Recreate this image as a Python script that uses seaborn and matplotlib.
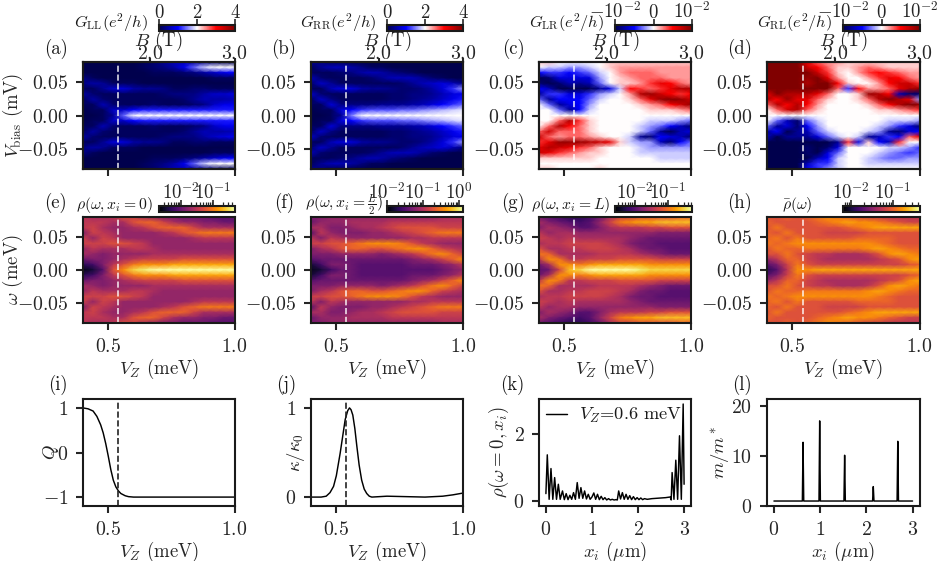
import matplotlib
matplotlib.use("Agg")
import matplotlib.pyplot as plt
from matplotlib.cm import ScalarMappable
from matplotlib.colors import LogNorm, Normalize
import numpy as np
import pandas as pd
import seaborn as sns

W, H = 940, 561

# grid of the maps: columns are V_Z (meV), rows run from +0.08 down to -0.08
vz_grid = [0.40, 0.44, 0.48, 0.52, 0.56, 0.60, 0.64, 0.68, 0.72, 0.76, 0.80, 0.84, 0.88, 0.92, 0.96, 1.00]
omega_grid = [0.08, 0.072, 0.064, 0.056, 0.048, 0.04, 0.032, 0.024, 0.016, 0.008, 0.0,
              -0.008, -0.016, -0.024, -0.032, -0.04, -0.048, -0.056, -0.064, -0.072, -0.08]
vz_marker = 0.54

# G_LL, G_RR in tenths of e^2/h
g_ll = [
    [0, 0, 0, 0, 0, 0, 1, 2, 4, 6, 6, 4, 3, 2, 1, 1],
    [0, 0, 0, 0, 0, 0, 1, 2, 3, 5, 9, 14, 18, 20, 20, 20],
    [0, 0, 0, 0, 0, 0, 0, 1, 1, 1, 2, 3, 5, 7, 9, 10],
    [3, 1, 0, 0, 0, 0, 0, 0, 0, 0, 0, 0, 0, 1, 1, 1],
    [3, 5, 4, 1, 1, 1, 0, 0, 0, 0, 0, 0, 0, 0, 0, 0],
    [1, 1, 4, 7, 8, 5, 4, 4, 3, 1, 1, 2, 2, 1, 1, 1],
    [5, 2, 1, 1, 1, 1, 1, 1, 2, 3, 3, 3, 5, 7, 7, 8],
    [1, 5, 2, 1, 1, 1, 1, 1, 1, 1, 2, 4, 6, 5, 5, 6],
    [1, 1, 6, 2, 1, 1, 1, 2, 1, 1, 1, 2, 3, 7, 9, 9],
    [0, 1, 1, 7, 7, 10, 11, 11, 11, 11, 11, 11, 11, 11, 11, 11],
    [0, 0, 1, 4, 14, 20, 20, 20, 20, 20, 20, 20, 20, 20, 20, 20],
    [0, 1, 1, 7, 7, 10, 11, 11, 11, 11, 11, 11, 11, 11, 11, 11],
    [1, 1, 6, 2, 1, 1, 1, 2, 1, 1, 1, 2, 3, 7, 9, 9],
    [1, 5, 2, 1, 1, 1, 1, 1, 1, 1, 2, 4, 6, 5, 5, 6],
    [5, 2, 1, 1, 1, 1, 1, 1, 2, 3, 3, 3, 5, 7, 8, 9],
    [1, 1, 4, 8, 8, 5, 4, 4, 3, 1, 1, 2, 2, 1, 1, 1],
    [3, 5, 4, 1, 1, 1, 0, 0, 0, 0, 0, 0, 0, 0, 0, 0],
    [3, 1, 0, 0, 0, 0, 0, 0, 0, 0, 0, 0, 0, 1, 1, 1],
    [0, 0, 0, 0, 0, 0, 0, 1, 1, 1, 2, 3, 5, 7, 9, 10],
    [0, 0, 0, 0, 0, 0, 1, 2, 3, 5, 9, 14, 18, 20, 20, 20],
    [0, 0, 0, 0, 0, 0, 1, 2, 4, 6, 6, 4, 3, 2, 1, 1],
]
g_rr = [
    [4, 3, 1, 1, 0, 0, 0, 0, 0, 0, 0, 0, 0, 0, 0, 0],
    [1, 4, 6, 6, 5, 3, 1, 1, 0, 0, 0, 0, 0, 0, 0, 0],
    [1, 1, 1, 2, 3, 5, 6, 5, 3, 2, 1, 0, 0, 0, 0, 0],
    [6, 2, 1, 1, 1, 1, 2, 4, 6, 6, 6, 4, 2, 1, 0, 0],
    [2, 7, 4, 1, 1, 1, 1, 1, 1, 2, 4, 6, 7, 8, 6, 3],
    [1, 1, 6, 8, 8, 5, 4, 4, 3, 2, 2, 3, 5, 8, 12, 16],
    [7, 2, 1, 1, 1, 1, 1, 1, 2, 2, 3, 3, 4, 6, 8, 9],
    [1, 7, 3, 1, 1, 1, 1, 1, 2, 2, 3, 4, 5, 7, 9, 11],
    [1, 1, 8, 3, 3, 3, 3, 4, 4, 4, 5, 6, 8, 10, 12, 14],
    [0, 1, 1, 8, 10, 12, 13, 13, 13, 14, 14, 15, 16, 17, 18, 19],
    [0, 0, 1, 4, 15, 20, 20, 20, 20, 20, 20, 20, 20, 20, 20, 20],
    [0, 1, 1, 8, 10, 12, 13, 13, 13, 14, 14, 15, 16, 17, 18, 19],
    [1, 1, 8, 3, 3, 3, 3, 4, 4, 4, 5, 6, 8, 10, 12, 14],
    [1, 7, 3, 1, 1, 1, 1, 1, 2, 2, 3, 4, 5, 7, 9, 11],
    [7, 2, 1, 1, 1, 1, 1, 1, 2, 2, 3, 3, 4, 6, 8, 9],
    [1, 1, 6, 8, 8, 5, 4, 4, 3, 2, 2, 3, 5, 8, 12, 16],
    [2, 7, 4, 1, 1, 1, 1, 1, 1, 2, 4, 6, 7, 8, 6, 3],
    [6, 2, 1, 1, 1, 1, 2, 4, 6, 6, 6, 4, 2, 1, 0, 0],
    [1, 1, 1, 2, 3, 5, 6, 5, 3, 2, 1, 0, 0, 0, 0, 0],
    [1, 4, 6, 6, 5, 3, 1, 1, 0, 0, 0, 0, 0, 0, 0, 0],
    [4, 3, 1, 1, 0, 0, 0, 0, 0, 0, 0, 0, 0, 0, 0, 0],
]

# G_LR, G_RL in units of 1e-3 e^2/h, saturating at +-10
g_lr = [
    [1, 1, 0, 0, 0, 0, 0, 1, 1, 1, 1, 1, 1, 1, 1, 1],
    [0, -1, -1, -2, -2, -1, 0, 1, 2, 2, 2, 2, 2, 2, 2, 2],
    [-5, -4, -4, -5, -4, -3, -1, 0, 2, 3, 3, 3, 2, 2, 2, 2],
    [-10, -9, -6, -6, -6, -6, -2, 0, 1, 2, 3, 3, 3, 2, 2, 2],
    [-9, -10, -9, -7, -8, -7, -3, 0, 1, 1, 2, 4, 6, 5, 3, 2],
    [-5, -7, -10, -10, -10, -10, -8, -6, -1, 5, 4, 3, 4, 6, 8, 8],
    [-8, -4, -4, -6, -6, -4, -2, -1, 0, 2, 8, 9, 7, 5, 4, 5],
    [-3, -8, -5, -5, -5, -3, -1, 0, 0, 1, 3, 6, 9, 10, 9, 7],
    [0, -3, -8, -6, -5, -2, 0, 0, 0, 0, 1, 2, 3, 5, 7, 9],
    [0, 0, -3, -8, -5, -1, 0, 0, 0, 0, 0, 1, 1, 1, 2, 3],
    [0, 0, 0, 0, 0, 0, 0, 0, 0, 0, 0, 0, 0, 0, 0, 0],
    [0, 0, 3, 8, 4, 1, 0, 0, 0, 0, 0, -1, -1, -1, -2, -3],
    [0, 3, 8, 5, 3, 1, 0, 0, 0, 0, -1, -2, -3, -5, -7, -9],
    [3, 7, 3, 3, 3, 1, 0, 0, 0, 0, -1, -3, -8, -10, -7, -6],
    [7, 3, 2, 3, 3, 2, 1, 0, 0, -1, -8, -9, -5, -6, -7, -9],
    [4, 6, 9, 9, 9, 8, 7, 6, 1, -1, -2, -2, -7, -9, -5, -3],
    [6, 8, 7, 6, 4, 3, 1, 0, 0, 0, -1, -2, -2, -2, -2, -2],
    [7, 6, 4, 3, 2, 1, 1, 0, 0, 0, -1, -1, -1, -1, -1, -1],
    [1, 1, 1, 1, 1, 1, 0, 0, 0, 0, 0, 0, -1, -1, -1, -1],
    [0, 0, 0, 0, 0, 0, 0, 0, 0, 0, 0, 0, 0, 0, 0, 0],
    [1, 1, 0, 0, 0, 0, 1, 0, 0, 0, 0, 0, 0, 0, 0, 0],
]
g_rl = [
    [10, 10, 10, 10, 6, 3, 2, 2, 1, 1, 1, 1, 1, 1, 1, 1],
    [10, 10, 10, 10, 7, 5, 3, 1, 1, 2, 3, 2, 1, 1, 1, 1],
    [10, 10, 10, 10, 10, 7, 4, 1, 0, 2, 4, 5, 4, 3, 2, 2],
    [10, 10, 10, 10, 9, 10, 6, 2, 0, 0, 2, 4, 6, 5, 3, 2],
    [10, 10, 10, 10, 8, 10, 10, 5, 1, 0, 0, 2, 5, 7, 7, 4],
    [10, 10, 10, 10, 10, 10, 10, 3, -4, 5, 2, 2, 3, 6, 8, 9],
    [6, 10, 8, 8, 8, 6, 3, 0, 0, 1, 9, 8, 5, -7, -9, -9],
    [8, 5, 9, 6, 6, 3, 1, 0, 0, 1, 3, 8, 10, 8, 6, -2],
    [3, 8, 5, 8, 5, 2, 0, 0, 0, 0, 1, 3, 5, 8, 10, 9],
    [0, 3, 7, 8, 3, 1, 0, 0, 0, 0, 0, 1, 1, 2, 3, 4],
    [0, 0, 0, 0, 0, 0, 0, 0, 0, 0, 0, 0, 0, 0, 0, 0],
    [0, -3, -7, -9, -3, -1, 0, 0, 0, 0, 0, 0, -1, -1, -1, -2],
    [-3, -8, -6, -9, -5, -2, 0, 0, 0, 0, 0, -1, -2, -4, -6, -9],
    [-8, -5, -10, -8, -7, -3, -1, 0, 0, 0, -1, -2, -8, -9, -6, -5],
    [-7, -10, -8, -8, -8, -6, -3, -1, 0, -1, -8, -7, -4, -5, 3, 6],
    [-10, -10, -10, -10, -10, -10, -10, -8, 4, -6, 1, -5, -7, 4, 0, 0],
    [-10, -10, -10, -10, -9, -10, -9, -6, 0, 0, 0, 0, -1, -1, -2, -4],
    [-10, -10, -10, -10, -9, -10, -6, -3, 0, 0, 0, -1, -2, -3, -4, -3],
    [-10, -10, -10, -10, -10, -7, -5, -1, 0, 0, -1, -2, -3, -3, -2, -2],
    [-10, -10, -10, -10, -7, -4, -4, -1, 0, 0, -1, -1, -1, -1, -1, -1],
    [-10, -10, -10, -10, -5, -4, -2, -1, 0, 0, 0, 0, 0, 0, 0, 0],
]

# densities of states, as steps of 1/20 along each log colour bar
rho_left = [
    [10, 9, 9, 10, 12, 11, 9, 8, 7, 7, 6, 6, 6, 5, 5, 5],
    [10, 10, 10, 9, 9, 12, 13, 13, 11, 9, 8, 8, 7, 7, 6, 6],
    [10, 11, 9, 8, 8, 9, 10, 12, 13, 13, 13, 11, 9, 9, 9, 9],
    [7, 11, 10, 9, 8, 8, 8, 8, 9, 10, 12, 13, 14, 14, 14, 14],
    [11, 8, 11, 10, 8, 8, 8, 8, 8, 8, 8, 9, 10, 10, 10, 10],
    [11, 11, 11, 12, 12, 11, 10, 8, 8, 8, 8, 8, 8, 8, 8, 8],
    [8, 10, 9, 9, 9, 10, 10, 9, 8, 8, 8, 8, 8, 8, 8, 8],
    [9, 8, 7, 8, 8, 8, 8, 9, 9, 9, 9, 9, 9, 9, 9, 9],
    [6, 7, 7, 8, 9, 10, 11, 11, 11, 11, 12, 12, 12, 12, 12, 12],
    [3, 4, 7, 10, 12, 14, 15, 15, 15, 16, 16, 16, 16, 16, 16, 16],
    [1, 2, 5, 12, 15, 18, 19, 20, 20, 20, 20, 20, 20, 20, 20, 20],
    [3, 4, 7, 10, 12, 14, 15, 15, 15, 16, 16, 16, 16, 16, 16, 16],
    [6, 7, 7, 8, 9, 10, 11, 11, 11, 11, 12, 12, 12, 12, 12, 12],
    [9, 8, 7, 8, 8, 8, 8, 9, 9, 9, 9, 9, 9, 9, 9, 9],
    [8, 10, 9, 9, 9, 10, 10, 9, 8, 8, 8, 8, 8, 8, 8, 8],
    [11, 11, 11, 12, 12, 11, 10, 8, 8, 8, 8, 8, 8, 8, 8, 8],
    [11, 8, 11, 10, 8, 8, 8, 8, 8, 8, 8, 9, 10, 10, 10, 10],
    [7, 11, 10, 9, 8, 8, 8, 8, 9, 10, 12, 13, 14, 14, 14, 14],
    [10, 11, 9, 8, 8, 9, 10, 12, 13, 13, 13, 11, 9, 9, 9, 9],
    [10, 10, 10, 9, 9, 12, 13, 13, 11, 9, 8, 8, 7, 7, 6, 6],
    [10, 9, 9, 10, 12, 11, 9, 8, 7, 7, 6, 6, 6, 5, 5, 5],
]
rho_mid = [
    [7, 7, 8, 8, 8, 8, 8, 8, 8, 8, 8, 8, 8, 9, 9, 9],
    [6, 8, 8, 8, 9, 9, 9, 9, 10, 10, 10, 10, 10, 10, 10, 10],
    [9, 9, 7, 7, 8, 9, 9, 10, 11, 12, 12, 12, 12, 11, 11, 11],
    [5, 10, 8, 7, 7, 7, 8, 8, 9, 10, 11, 12, 13, 14, 14, 14],
    [10, 7, 10, 9, 8, 8, 8, 8, 8, 8, 9, 9, 10, 10, 10, 10],
    [11, 11, 12, 12, 13, 14, 15, 15, 15, 14, 12, 10, 9, 8, 8, 8],
    [7, 9, 10, 12, 13, 13, 12, 12, 13, 14, 15, 15, 13, 11, 10, 9],
    [7, 7, 7, 8, 8, 8, 8, 7, 8, 9, 10, 12, 14, 15, 13, 11],
    [5, 6, 6, 6, 6, 6, 6, 6, 6, 6, 7, 8, 9, 11, 13, 15],
    [2, 4, 7, 7, 6, 5, 5, 5, 5, 5, 6, 6, 6, 7, 8, 10],
    [1, 2, 4, 6, 6, 5, 5, 5, 5, 5, 5, 5, 5, 6, 7, 8],
    [2, 4, 7, 7, 6, 5, 5, 5, 5, 5, 6, 6, 6, 7, 8, 10],
    [5, 6, 6, 6, 6, 6, 6, 6, 6, 6, 7, 8, 9, 11, 13, 15],
    [7, 7, 7, 8, 8, 8, 8, 7, 8, 9, 10, 12, 14, 15, 13, 11],
    [7, 9, 10, 12, 13, 13, 12, 12, 13, 14, 15, 15, 13, 11, 10, 9],
    [11, 11, 12, 12, 13, 14, 15, 15, 15, 14, 12, 10, 9, 8, 8, 8],
    [10, 7, 10, 9, 8, 8, 8, 8, 8, 8, 9, 9, 10, 10, 10, 10],
    [5, 10, 8, 7, 7, 7, 8, 8, 9, 10, 11, 12, 13, 14, 14, 14],
    [9, 9, 7, 7, 8, 9, 9, 10, 11, 12, 12, 12, 12, 11, 11, 11],
    [6, 8, 8, 8, 9, 9, 9, 9, 10, 10, 10, 10, 10, 10, 10, 10],
    [7, 7, 8, 8, 8, 8, 8, 8, 8, 8, 8, 8, 8, 9, 9, 9],
]
rho_right = [
    [6, 5, 4, 3, 3, 4, 6, 9, 11, 11, 12, 12, 12, 12, 13, 13],
    [9, 7, 6, 5, 4, 5, 8, 11, 14, 15, 16, 16, 17, 17, 17, 17],
    [7, 9, 8, 7, 5, 5, 7, 9, 10, 10, 10, 11, 11, 12, 12, 12],
    [10, 8, 9, 9, 8, 8, 8, 8, 8, 8, 8, 8, 7, 7, 7, 7],
    [11, 10, 9, 10, 9, 9, 9, 9, 9, 8, 7, 6, 6, 6, 6, 6],
    [9, 10, 10, 11, 11, 11, 11, 10, 9, 7, 6, 6, 5, 5, 5, 5],
    [12, 9, 9, 10, 10, 11, 11, 11, 10, 9, 7, 6, 6, 5, 5, 5],
    [14, 13, 9, 9, 9, 9, 10, 10, 10, 10, 9, 8, 7, 6, 6, 6],
    [10, 15, 14, 10, 10, 11, 11, 11, 12, 12, 12, 12, 11, 11, 11, 11],
    [6, 9, 15, 15, 14, 15, 16, 16, 16, 16, 16, 15, 15, 15, 15, 15],
    [5, 6, 11, 17, 18, 20, 20, 20, 20, 20, 19, 18, 18, 18, 18, 18],
    [6, 9, 15, 15, 14, 15, 16, 16, 16, 16, 16, 15, 15, 15, 15, 15],
    [10, 15, 14, 10, 10, 11, 11, 11, 12, 12, 12, 12, 11, 11, 11, 11],
    [14, 13, 9, 9, 9, 9, 10, 10, 10, 10, 9, 8, 7, 6, 6, 6],
    [12, 9, 9, 10, 10, 11, 11, 11, 10, 9, 7, 6, 6, 5, 5, 5],
    [9, 10, 10, 11, 11, 11, 11, 10, 9, 7, 6, 6, 5, 5, 5, 5],
    [11, 10, 9, 10, 9, 9, 9, 9, 9, 8, 7, 6, 6, 6, 6, 6],
    [10, 8, 9, 9, 8, 8, 8, 8, 8, 8, 8, 8, 7, 7, 7, 7],
    [7, 9, 8, 7, 5, 5, 7, 9, 10, 10, 10, 11, 11, 12, 12, 12],
    [9, 7, 6, 5, 4, 5, 8, 11, 14, 15, 16, 16, 17, 17, 17, 17],
    [6, 5, 4, 3, 3, 4, 6, 9, 11, 11, 12, 12, 12, 12, 13, 13],
]
rho_mean = [
    [12, 12, 13, 12, 13, 14, 15, 14, 13, 12, 11, 11, 10, 10, 10, 10],
    [13, 12, 12, 12, 12, 13, 14, 15, 16, 15, 15, 14, 13, 12, 11, 11],
    [12, 14, 12, 12, 12, 12, 12, 12, 13, 14, 15, 16, 16, 16, 16, 16],
    [13, 12, 14, 12, 12, 12, 11, 11, 11, 11, 12, 12, 12, 12, 12, 12],
    [13, 14, 12, 14, 12, 12, 12, 12, 12, 13, 13, 13, 13, 12, 12, 12],
    [14, 13, 14, 15, 15, 15, 15, 15, 15, 15, 15, 14, 13, 12, 12, 12],
    [12, 14, 13, 13, 14, 14, 14, 14, 14, 14, 15, 16, 15, 14, 13, 13],
    [12, 12, 14, 12, 11, 10, 10, 9, 9, 9, 10, 12, 15, 16, 15, 14],
    [8, 10, 13, 13, 11, 10, 9, 9, 9, 9, 9, 10, 11, 12, 15, 16],
    [5, 7, 11, 14, 12, 11, 11, 11, 11, 11, 11, 11, 11, 11, 12, 13],
    [3, 5, 10, 15, 15, 16, 16, 16, 16, 16, 16, 16, 16, 16, 16, 16],
    [5, 7, 11, 14, 12, 11, 11, 11, 11, 11, 11, 11, 11, 11, 12, 13],
    [8, 10, 13, 13, 11, 10, 9, 9, 9, 9, 9, 10, 11, 12, 15, 16],
    [12, 12, 14, 12, 11, 10, 10, 9, 9, 9, 10, 12, 15, 16, 15, 14],
    [12, 14, 13, 13, 14, 14, 14, 14, 14, 14, 15, 16, 15, 14, 13, 13],
    [14, 13, 14, 15, 15, 15, 15, 15, 15, 15, 15, 14, 13, 12, 12, 12],
    [13, 14, 12, 14, 12, 12, 12, 12, 12, 13, 13, 13, 13, 12, 12, 12],
    [13, 12, 14, 12, 12, 12, 11, 11, 11, 11, 12, 12, 12, 12, 12, 12],
    [12, 14, 12, 12, 12, 12, 12, 12, 13, 14, 15, 16, 16, 16, 16, 16],
    [13, 12, 12, 12, 12, 13, 14, 15, 16, 15, 15, 14, 13, 12, 11, 11],
    [12, 12, 13, 12, 13, 14, 15, 14, 13, 12, 11, 11, 10, 10, 10, 10],
]

# line panels
q_vz = [0.40, 0.42, 0.44, 0.455, 0.47, 0.48, 0.49, 0.50, 0.51, 0.52, 0.53, 0.54, 0.55, 0.567, 0.58, 0.60, 0.70, 0.85, 1.00]
q_val = [1.0, 0.98, 0.93, 0.81, 0.62, 0.44, 0.2, -0.08, -0.38, -0.62, -0.77, -0.86, -0.92, -0.97, -0.99, -1.0, -1.0, -1.0, -1.0]
kappa_vz = [0.40, 0.44, 0.46, 0.475, 0.489, 0.50, 0.515, 0.525, 0.535, 0.545, 0.552, 0.558, 0.565, 0.573, 0.581, 0.59, 0.60, 0.61, 0.62, 0.63, 0.64, 0.70, 0.85, 0.92, 0.96, 1.00]
kappa_val = [0.0, 0.0, 0.01, 0.05, 0.12, 0.24, 0.49, 0.68, 0.87, 0.97, 1.0, 0.98, 0.92, 0.77, 0.57, 0.36, 0.19, 0.09, 0.04, 0.01, 0.0, 0.01, 0.0, 0.01, 0.025, 0.045]
ldos_x = [0.0, 0.03, 0.07, 0.11, 0.15, 0.19, 0.23, 0.27, 0.31, 0.36, 0.40, 0.44, 0.48, 0.52, 0.56, 0.60, 0.64, 0.68,
          0.72, 0.76, 0.80, 0.84, 0.88, 0.92, 0.96, 1.0, 1.04, 1.08, 1.12, 1.16, 1.2, 1.24, 1.28, 1.32, 1.36, 1.4,
          1.44, 1.48, 1.52, 1.55, 1.58, 1.62, 1.66, 1.7, 1.74, 1.78, 1.82, 1.86, 1.9, 1.94, 1.98, 2.02, 2.06, 2.1,
          2.14, 2.2, 2.3, 2.4, 2.5, 2.6, 2.7, 2.72, 2.74, 2.78, 2.82, 2.86, 2.9, 2.94, 2.98, 3.0]
ldos_val = [0.22, 1.38, 0.05, 0.97, 0.05, 0.7, 0.05, 0.5, 0.05, 0.3, 0.04, 0.22, 0.04, 0.17, 0.05, 0.25, 0.05, 0.55,
            0.08, 0.4, 0.08, 0.3, 0.06, 0.2, 0.05, 0.12, 0.24, 0.05, 0.2, 0.04, 0.14, 0.04, 0.1, 0.03, 0.07, 0.03,
            0.05, 0.03, 0.04, 0.03, 0.3, 0.06, 0.25, 0.05, 0.2, 0.05, 0.16, 0.04, 0.13, 0.04, 0.1, 0.04, 0.09, 0.04,
            0.07, 0.05, 0.07, 0.08, 0.09, 0.1, 0.12, 0.03, 0.85, 0.05, 1.22, 0.05, 1.95, 0.05, 2.9, 0.5]
mass_x = [0.0, 0.615, 0.63, 0.645, 0.975, 0.99, 1.005, 1.515, 1.53, 1.545, 2.135, 2.15, 2.165, 2.665, 2.68, 2.695, 3.0]
mass_val = [1, 1, 12.8, 1, 1, 17.1, 1, 1, 10.2, 1, 1, 3.9, 1, 1, 13.0, 1, 1]

# tick labels
vz_ticks = [0.5, 1.0]
vz_tick_labels = ["$0.5$", "$1.0$"]
b_ticks = [2.0, 3.0]
b_tick_labels = ["$2.0$", "$3.0$"]
energy_ticks = [0.05, 0.0, -0.05]
energy_tick_labels = ["$0.05$", "$0.00$", "$-0.05$"]
panel_names = ["(a)", "(b)", "(c)", "(d)", "(e)", "(f)", "(g)", "(h)", "(i)", "(j)", "(k)", "(l)"]

sns.set_theme(style="ticks")
plt.rcParams.update({
    "font.family": ["cmr10", "DejaVu Serif"],
    "mathtext.fontset": "cm",
    "axes.unicode_minus": False,
    "font.size": 9,
    "axes.labelsize": 9,
    "xtick.labelsize": 9.5,
    "ytick.labelsize": 9.5,
    "axes.linewidth": 1.0,
    "axes.edgecolor": "#1a1a1a",
    "text.color": "#1a1a1a",
    "xtick.major.size": 3.5,
    "ytick.major.size": 3.5,
    "xtick.major.width": 1.0,
    "ytick.major.width": 1.0,
    "xtick.major.pad": 3.5,
    "ytick.major.pad": 3.5,
})


def rect(x0, x1, y0, y1):
    # pixel box to figure fractions
    return [x0 / W, 1 - y1 / H, (x1 - x0) / W, (y1 - y0) / H]


def vz_pos(v):
    return np.interp(v, vz_grid, np.arange(len(vz_grid)))


def energy_pos(e):
    return np.interp(e, omega_grid[::-1], np.arange(len(omega_grid))[::-1])


def place_ylabel(ax, box, text, x_px):
    ax.set_ylabel(text)
    ax.yaxis.set_label_coords((x_px - box[0]) / (box[1] - box[0]), 0.5)


def draw_map(fig, box, values, cmap, vmin, vmax, ylabel=None, top_axis=False):
    ax = fig.add_axes(rect(*box))
    df = pd.DataFrame(values, index=omega_grid, columns=vz_grid)
    sns.heatmap(df, cmap=cmap, vmin=vmin, vmax=vmax, cbar=False, xticklabels=False,
                yticklabels=False, shading="gouraud", ax=ax)
    ax.set_xlim(0, len(vz_grid) - 1)
    ax.set_ylim(len(omega_grid) - 1, 0)
    for spine in ax.spines.values():
        spine.set_visible(True)
        spine.set_linewidth(1.0)
    ax.set_xticks(vz_pos(vz_ticks))
    ax.set_yticks(energy_pos(energy_ticks))
    ax.set_yticklabels(energy_tick_labels, rotation=0)
    ax.tick_params(left=True, bottom=True)
    ax.axvline(vz_pos(vz_marker), color="white", ls="--", lw=0.8, alpha=0.85)
    ax.set_ylabel("")
    if ylabel:
        place_ylabel(ax, box, ylabel, 25)
    if top_axis:
        ax.set_xticklabels([])
        ax.set_xlabel("")
        top = ax.twiny()
        top.set_xlim(ax.get_xlim())
        top.set_xticks(vz_pos(np.array(b_ticks) / 3.0))
        top.set_xticklabels(b_tick_labels)
        top.tick_params(axis="x", pad=-2.5, length=2.0)
        top.set_xlabel("$B$ (T)", labelpad=-0.5)
        for spine in top.spines.values():
            spine.set_linewidth(1.0)
    else:
        ax.set_xticklabels(vz_tick_labels)
        ax.set_xlabel(r"$V_Z$ (meV)", labelpad=0.5)
    return ax


def draw_colorbar(fig, box, norm, cmap, ticks, labels):
    cax = fig.add_axes(rect(*box))
    cbar = fig.colorbar(ScalarMappable(norm=norm, cmap=cmap), cax=cax, orientation="horizontal")
    cax.xaxis.set_ticks_position("top")
    cbar.set_ticks(ticks, labels=labels)
    cax.tick_params(axis="x", pad=-1.5, labelsize=9, length=3.0, width=0.8)
    cax.tick_params(axis="x", which="minor", length=1.8, width=0.6)
    cbar.outline.set_linewidth(1.0)
    return cbar


def draw_line(fig, box, x, y, xlim, ylim, xticks, xlabels, yticks, ylabels, xlabel, ylabel, ylabel_x, marker=None, label=None):
    ax = fig.add_axes(rect(*box))
    sns.lineplot(x=x, y=y, color="black", lw=0.7, sort=False, errorbar=None, label=label, ax=ax)
    ax.set_xlim(*xlim)
    ax.set_ylim(*ylim)
    ax.set_xticks(xticks)
    ax.set_xticklabels(xlabels)
    ax.set_yticks(yticks)
    ax.set_yticklabels(ylabels)
    ax.set_xlabel(xlabel, labelpad=0.5)
    place_ylabel(ax, box, ylabel, ylabel_x)
    if marker is not None:
        ax.axvline(marker, color="#222222", ls="--", lw=0.8)
    return ax


fig = plt.figure(figsize=(W / 150, H / 150), dpi=150)

columns = [(83, 234.5), (311, 463), (539, 691), (767, 919.5)]
row1 = (62, 169)
row2 = (217, 323)
row3 = (399, 506)
bars = [(159, 235), (387, 463), (615, 692), (843, 920)]
panel_x = [56, 284, 513, 740]

# top row, conductance
g_labels = [r"$G_{\mathrm{LL}}(e^2/h)$", r"$G_{\mathrm{RR}}(e^2/h)$",
            r"$G_{\mathrm{LR}}(e^2/h)$", r"$G_{\mathrm{RL}}(e^2/h)$"]
g_maps = [g_ll, g_rr, g_lr, g_rl]
for i, values in enumerate(g_maps):
    local = i < 2
    scale = (0, 40) if local else (-10, 10)
    draw_map(fig, (*columns[i], *row1), values, "seismic", scale[0], scale[1],
             ylabel=r"$V_{\mathrm{bias}}$ (mV)" if i == 0 else None, top_axis=True)
    if local:
        draw_colorbar(fig, (*bars[i], 25, 31), Normalize(0, 4), "seismic", [0, 2, 4], ["$0$", "$2$", "$4$"])
    else:
        draw_colorbar(fig, (*bars[i], 25, 31), Normalize(-0.01, 0.01), "seismic",
                      [-0.01, 0, 0.01], ["$-10^{-2}$", "$0$", "$10^{-2}$"])
    fig.text((bars[i][0] - 11) / W, 1 - 23 / H, g_labels[i], ha="right", va="center", fontsize=7.8)
    fig.text(panel_x[i] / W, 1 - 49 / H, panel_names[i], ha="center", va="center")

# middle row, density of states
rho_maps = [rho_left, rho_mid, rho_right, rho_mean]
rho_ranges = [(10 ** -2.68, 10 ** -0.32), (0.01, 10 ** 0.11), (10 ** -2.61, 10 ** -0.27), (10 ** -2.2, 10 ** -0.34)]
rho_ticks = [[0.01, 0.1], [0.01, 0.1, 1.0], [0.01, 0.1], [0.01, 0.1]]
rho_tick_labels = [["$10^{-2}$", "$10^{-1}$"], ["$10^{-2}$", "$10^{-1}$", "$10^{0}$"],
                   ["$10^{-2}$", "$10^{-1}$"], ["$10^{-2}$", "$10^{-1}$"]]
rho_labels = [r"$\rho(\omega,x_i=0)$", r"$\rho(\omega,x_i=\frac{L}{2})$",
              r"$\rho(\omega,x_i=L)$", r"$\bar{\rho}(\omega)$"]
rho_label_x = [153, 383, 610, 812]
for i, values in enumerate(rho_maps):
    draw_map(fig, (*columns[i], *row2), values, "inferno", 0, 20,
             ylabel=r"$\omega$ (meV)" if i == 0 else None)
    draw_colorbar(fig, (*bars[i], 206, 212), LogNorm(*rho_ranges[i]), "inferno", rho_ticks[i], rho_tick_labels[i])
    fig.text(rho_label_x[i] / W, 1 - 205 / H, rho_labels[i], ha="right", va="center", fontsize=7.5)
    fig.text(panel_x[i] / W, 1 - 203 / H, panel_names[4 + i], ha="center", va="center")

# bottom row, lines
draw_line(fig, (*columns[0], *row3), q_vz, q_val, (0.4, 1.0), (-1.2, 1.2), vz_ticks, vz_tick_labels,
          [-1, 0, 1], ["$-1$", "$0$", "$1$"], r"$V_Z$ (meV)", "$Q$", 61, marker=vz_marker)
draw_line(fig, (*columns[1], *row3), kappa_vz, kappa_val, (0.4, 1.0), (-0.1, 1.1), vz_ticks, vz_tick_labels,
          [0, 1], ["$0$", "$1$"], r"$V_Z$ (meV)", r"$\kappa/\kappa_0$", 307, marker=vz_marker)
ax_k = draw_line(fig, (*columns[2], *row3), ldos_x, ldos_val, (-0.15, 3.15), (-0.15, 3.05), [0, 1, 2, 3],
                 ["$0$", "$1$", "$2$", "$3$"], [0, 2], ["$0$", "$2$"], r"$x_i$ ($\mu$m)",
                 r"$\rho(\omega=0,x_i)$", 511, label=r"$V_Z$=0.6 meV")
ax_k.legend(loc="upper left", frameon=False, handlelength=1.1, borderaxespad=0.1, fontsize=8.8,
            borderpad=0.3, handletextpad=0.7)
draw_line(fig, (*columns[3], *row3), mass_x, mass_val, (-0.15, 3.15), (0, 21.5), [0, 1, 2, 3],
          ["$0$", "$1$", "$2$", "$3$"], [0, 10, 20], ["$0$", "$10$", "$20$"], r"$x_i$ ($\mu$m)", r"$m/m^*$", 732)
row3_x = [58, 286, 512, 742]
for i in range(4):
    fig.text(row3_x[i] / W, 1 - 385 / H, panel_names[8 + i], ha="center", va="center")

fig.savefig("out.png", dpi=150)
